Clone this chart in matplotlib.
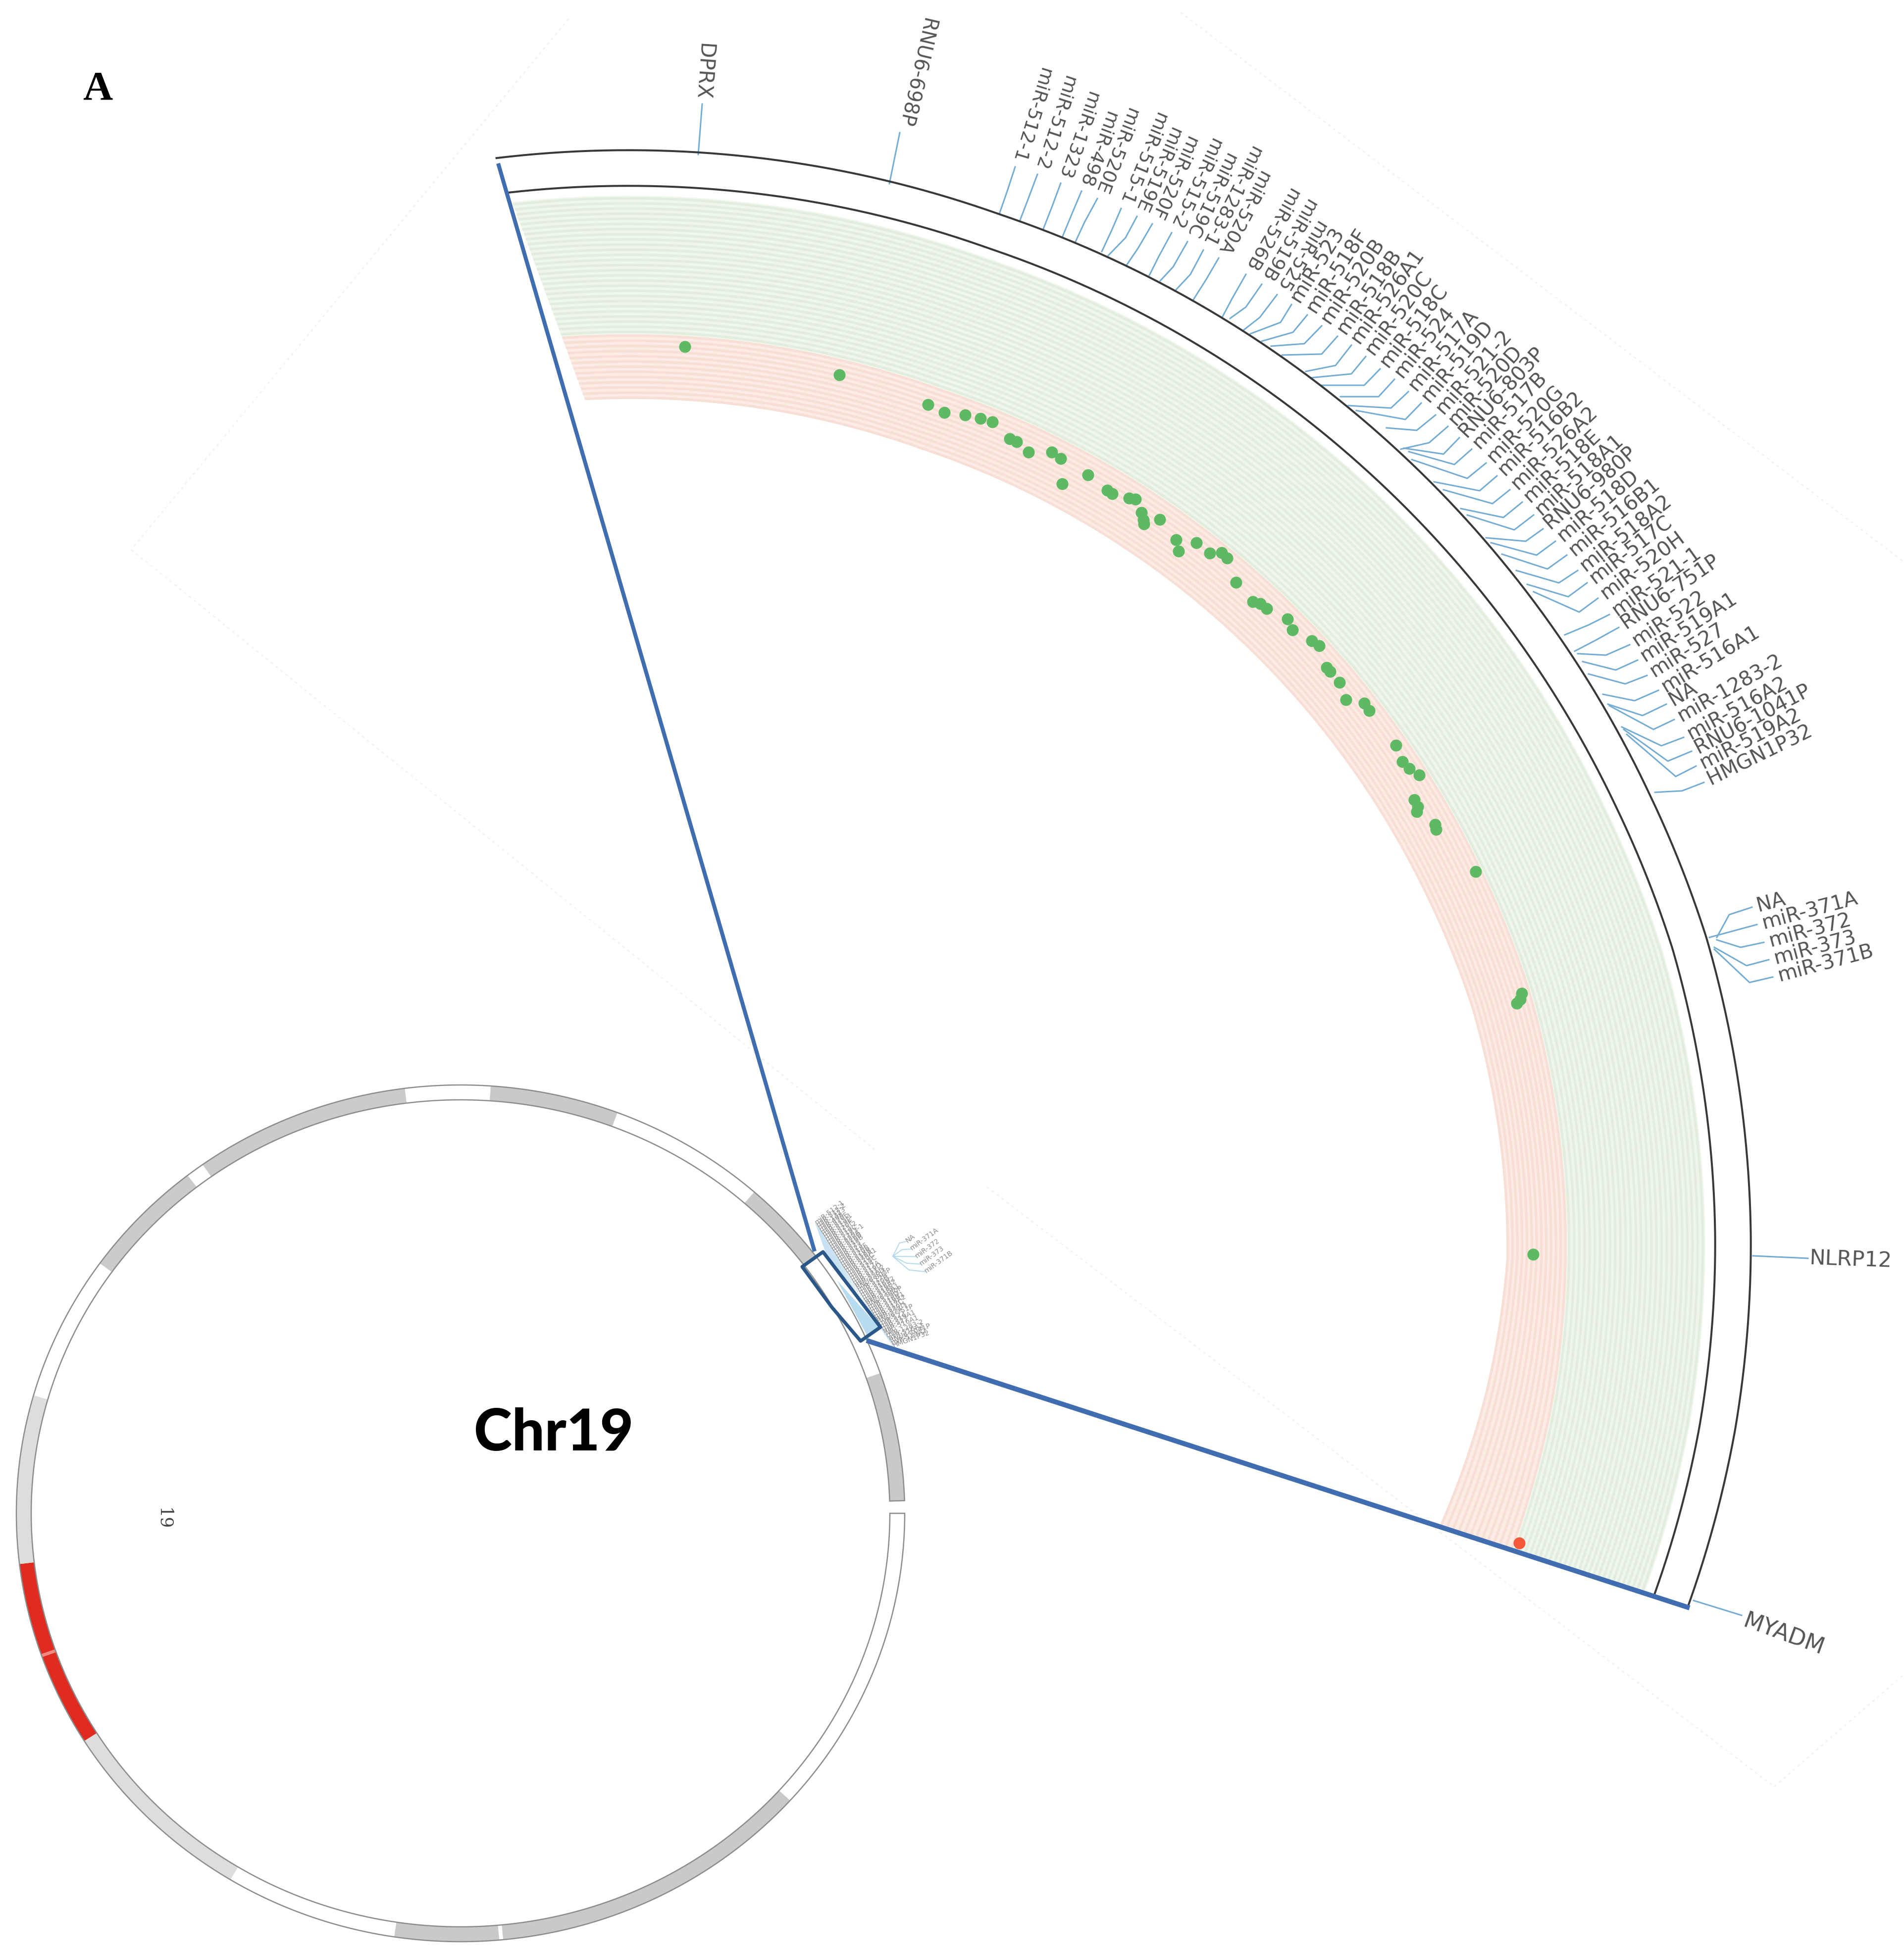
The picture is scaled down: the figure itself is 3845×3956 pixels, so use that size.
import numpy as np
import matplotlib
matplotlib.use("Agg")
import matplotlib.pyplot as plt
from matplotlib.patches import Polygon

# ---------- data ----------
gene_names = ["miR-512-1","miR-512-2","miR-1323","miR-498","miR-520E","miR-515-1","miR-519E","miR-520F",
 "miR-515-2","miR-519C","miR-1283-1","miR-520A","miR-526B","miR-519B","miR-525","miR-523","miR-518F",
 "miR-520B","miR-518B","miR-526A1","miR-520C","miR-518C","miR-524","miR-517A","miR-519D","miR-521-2",
 "miR-520D","RNU6-803P","miR-517B","miR-520G","miR-516B2","miR-526A2","miR-518E","miR-518A1","RNU6-980P",
 "miR-518D","miR-516B1","miR-518A2","miR-517C","miR-520H","miR-521-1","RNU6-751P","miR-522","miR-519A1",
 "miR-527","miR-516A1","NA","miR-1283-2","miR-516A2","RNU6-1041P","miR-519A2","HMGN1P32"]
n_downward = 15   # first labels in the list read towards the arc
gene_base_x = [2018,2059,2107,2146,2171,2225,2238,2276,2321,2343,2375,2410,2468,2484,2512,2525,2548,2567,2589,2637,2646,2669,2707,2723,2739,
 2800,2829,2835,2845,2851,2896,2915,2950,2963,3001,3011,3033,3062,3084,3097,3160,3180,3186,3196,3208,3237,3247,3250,3275,3279,3285,3342]
gene_base_y = [432,447,462,477,490,508,516,534,556,567,585,605,641,643,666,674,689,699,717,750,763,778,801,819,829,
 864,907,905,912,928,973,989,1027,1040,1086,1096,1119,1152,1180,1195,1282,1315,1320,1336,1361,1402,1422,1425,1468,1473,1483,1600]
gene_elbow_x = [2034,2077,2125,2165,2190,2245,2273,2299,2340,2369,2404,2436,2487,2516,2544,2586,2611,2634,2669,2697,2729,2755,2784,2809,2838,
 2861,2886,2915,2937,2963,2988,3014,3036,3058,3081,3103,3125,3148,3167,3189,3208,3224,3243,3263,3282,3301,3317,3339,3355,3368,3384,3397]
gene_elbow_y = [386,400,416,431,449,465,480,500,518,539,554,564,605,620,641,651,671,694,715,738,755,778,801,824,847,
 869,894,917,938,966,991,1017,1045,1070,1093,1121,1149,1177,1205,1236,1262,1292,1323,1353,1381,1415,1445,1473,1506,1537,1568,1597]
gene_top_x = [2050,2095,2142,2184,2216,2264,2296,2327,2366,2398,2430,2461,2516,2548,2579,2608,2640,2669,2701,2729,2758,2787,2816,2844,2870,
 2899,2924,2947,2972,3001,3023,3049,3074,3097,3116,3141,3164,3186,3205,3227,3250,3269,3291,3307,3326,3349,3365,3381,3400,3416,3425,3441]
gene_top_y = [337,352,370,386,401,421,437,452,470,488,505,521,554,574,595,615,636,658,679,697,720,745,766,791,814,
 838,861,884,907,935,961,989,1014,1040,1068,1093,1121,1152,1177,1208,1241,1267,1302,1333,1364,1394,1422,1453,1489,1517,1547,1580]

cluster_names = ["NA","miR-371A","miR-372","miR-373","miR-371B"]
cluster_base_x = [3467,3452,3467,3462,3462]
cluster_base_y = [1893,1893,1898,1913,1917]
cluster_elbow_x = [3492,3500,3515,3527,3533]
cluster_elbow_y = [1847,1880,1913,1950,1984]
cluster_top_x = [3538,3548,3562,3572,3580]
cluster_top_y = [1832,1867,1903,1938,1973]

dot_x = [1383,1695,1874,1907,1949,1980,2004,2039,2053,2077,2124,2142,2145,2197,2236,2246,2280,2293,2305,2309,2310,2342,2375,2380,
 2416,2443,2467,2478,2496,2530,2545,2558,2600,2610,2649,2664,2679,2686,2705,2718,2755,2765,2819,2832,2846,2866,2856,2863,2861,2898,2900,2980,
 3073,3070,3063,3096]
dot_y = [700,757,817,833,838,845,852,886,892,913,913,926,977,959,990,997,1006,1008,1035,1050,1058,1049,1090,1113,
 1096,1117,1116,1127,1176,1215,1219,1229,1250,1272,1294,1304,1348,1356,1378,1413,1420,1435,1505,1538,1552,1565,1615,1629,1639,1665,1675,1760,
 2006,2018,2026,2533]
red_dot_x = [3068]
red_dot_y = [3116]

n_green_tracks = 27
n_red_tracks = 13

band_edges = [0,42.1,84.5,85.0,98.6,121.2,147.9,160.4,160.8,173.2,196.0,215.7,232.1,234.5,262.8,273.9,290.7,311.4,323.1,340.9,358.3]
band_fill = ["#ffffff","#c9c9c9","#ffffff","#c9c9c9","#ffffff","#dddddd","#e02b20","#f08a80","#e02b20","#dddddd","#ffffff",
 "#cbcbcb","#ffffff","#cbcbcb","#ffffff","#c9c9c9","#ffffff","#c9c9c9","#ffffff","#c9c9c9"]

# ---------- layout ----------
PX = 0.72            # one pixel in points at dpi 100
FAN_CX, FAN_CY = 1295, 2540
R_OUT, R_IN, R_GREEN, R_BOUND = 2238, 2166, 2146, 1866
BLUE = "#3f6db0"
LEAD = "#74acd2"
TXT = "#555555"

plt.rcParams["font.family"] = ["DejaVu Sans"]
fig = plt.figure(figsize=(38.45, 39.56), dpi=100, facecolor="white")
ax = fig.add_axes([0, 0, 1, 1])
ax.set_xlim(0, 3845)
ax.set_ylim(3956, 0)
ax.axis("off")

# faint frame of the rotated source picture
for (x0, y0, x1, y1) in [(2384,25,3845,1135),(1148,38,265,1110),(265,1110,1766,2321),(1993,2397,3583,3608),(3583,3608,3845,3381)]:
    ax.plot([x0,x1],[y0,y1],color="#f1f1f1",lw=2.5*PX,ls=(0,(2,3)),zorder=1)

# the arcs of the source are not perfect circles: small correction with angle
def wobble(deg):
    return np.interp(deg, [-18.3,-9,1,16.7,24.8,47,71,97.6], [-10,-2,3,8,3,-4,-10,2])

def red_inner(deg):
    return np.interp(deg, [-18.3,0,97.6], [1711,1745,1735])

def arc(r, a0, a1, n=500):
    deg = np.linspace(a0, a1, n)
    t = np.radians(deg)
    rr = (r(deg) if callable(r) else r) + wobble(deg)
    return FAN_CX + rr*np.cos(t), FAN_CY - rr*np.sin(t)

# tracks, clipped to the wedge
clip = Polygon([(1013,350),(1200,858),(2900,3078),(3430,3252),(3840,2000),(2000,150)],
               closed=True, transform=ax.transData, fill=False, ec="none")
ax.add_patch(clip)
def band(r0, r1, n, base, stripe):
    x0, y0 = arc(r0, 110, -30)
    x1, y1 = arc(r1, -30, 110)
    p = Polygon(np.c_[np.r_[x0,x1], np.r_[y0,y1]], closed=True, fc=base, ec="none", zorder=2)
    ax.add_patch(p); p.set_clip_path(clip)
    for f in np.linspace(0.018, 0.982, n):
        if callable(r1):
            rf = lambda d, f=f: r0 + (r1(d)-r0)*f
        else:
            rf = r0 + (r1-r0)*f
        x, y = arc(rf, 110, -30)
        l, = ax.plot(x, y, color=stripe, lw=5*PX, zorder=3, solid_capstyle="butt")
        l.set_clip_path(clip)
band(R_GREEN, R_BOUND, n_green_tracks, "#eff6eb", "#e3edde")
band(R_BOUND, red_inner, n_red_tracks, "#fbebe4", "#f7dfd5")

# black arcs
x, y = arc(R_OUT, 97.5, -18.3); ax.plot(x, y, color="#383838", lw=4*PX, zorder=5)
x, y = arc(R_IN, 97.1, -18.4); ax.plot(x, y, color="#383838", lw=4*PX, zorder=5)

# dots
ax.scatter(dot_x, dot_y, s=300, color="#5dba63", linewidths=0, zorder=6)
ax.scatter(red_dot_x, red_dot_y, s=300, color="#f4593a", linewidths=0, zorder=6)

# leaders and labels of the zoomed fan
def label(name, x, y, rot, ha, size=29.5, color=TXT, z=7):
    ax.text(x, y, name, rotation=rot, rotation_mode="anchor", ha=ha, va="center",
            fontsize=size, color=color, zorder=z)

for i, name in enumerate(gene_names):
    ax.plot([gene_base_x[i],gene_elbow_x[i],gene_top_x[i]],[gene_base_y[i],gene_elbow_y[i],gene_top_y[i]],
            color=LEAD, lw=3*PX, zorder=4, solid_joinstyle="round")
    ang = np.degrees(np.arctan2(FAN_CY-gene_top_y[i], gene_top_x[i]-FAN_CX)) + 2
    d = np.radians(ang)
    tx, ty = gene_top_x[i]+10*np.cos(d), gene_top_y[i]-10*np.sin(d)
    if i < n_downward:
        label(name, tx, ty, ang-180, "right", size=27.5)
    else:
        label(name, tx, ty, ang, "left")
for i, name in enumerate(cluster_names):
    ax.plot([cluster_base_x[i],cluster_elbow_x[i],cluster_top_x[i]],[cluster_base_y[i],cluster_elbow_y[i],cluster_top_y[i]],
            color=LEAD, lw=3*PX, zorder=4)
    label(name, cluster_top_x[i]+10, cluster_top_y[i]-2, 15, "left")

ax.plot([1410,1418],[312,210],color=LEAD,lw=3*PX,zorder=4)
label("DPRX",1416,202,-94,"right",size=30)
ax.plot([1796,1817],[371,268],color=LEAD,lw=3*PX,zorder=4)
label("RNU6-698P",1824,256,-103,"right",size=28.5)
ax.plot([3540,3651],[2536,2541],color=LEAD,lw=3*PX,zorder=4)
label("NLRP12",3654,2541,-2,"left",size=31)
ax.plot([3420,3517],[3232,3262],color=LEAD,lw=3*PX,zorder=4)
label("MYADM",3522,3272,-20,"left",size=33)

# blue connector lines
ax.plot([1006,1645],[330,2527],color=BLUE,lw=8*PX,zorder=8,solid_capstyle="butt")
ax.plot([1750,3412],[2707,3247],color=BLUE,lw=10*PX,zorder=8,solid_capstyle="butt")

# chromosome ideogram
ICX, ICY, IRX, IRY, IW = 930, 3056, 882, 850, 15
def ring(a0, a1, d):
    t = np.radians(np.linspace(a0, a1, max(int(abs(a1-a0)*6), 4)))
    return ICX+(IRX+d)*np.cos(t), ICY+(IRY+d)*np.sin(t)
for a0, a1, c in zip(band_edges[:-1], band_edges[1:], band_fill):
    xo, yo = ring(a0, a1, IW); xi, yi = ring(a1, a0, -IW)
    ax.add_patch(Polygon(np.c_[np.r_[xo,xi],np.r_[yo,yi]],closed=True,fc=c,ec="none",zorder=2))
xo, yo = ring(0, 358.3, IW); xi, yi = ring(358.3, 0, -IW)
ax.add_patch(Polygon(np.c_[np.r_[xo,xi],np.r_[yo,yi]],closed=True,fc="none",ec="#8c8c8c",lw=2.5*PX,zorder=3))

ax.text(1118,2895,"Chr19",fontsize=84,fontweight=900,family="Lato",color="black",ha="center",va="center",zorder=9)
ax.text(330,3067,"19",fontsize=25,family="DejaVu Serif",color="#444444",rotation=-90,ha="center",va="center",zorder=9)
ax.text(197,181,"A",fontsize=60,fontweight="bold",family="Liberation Serif",color="black",ha="center",va="center",zorder=9)

# miniature of the fan next to the ideogram
mini_x = np.linspace(1647,1803,len(gene_names))
mini_y = np.linspace(2470,2717,len(gene_names))
mini_rot = np.linspace(38,20,len(gene_names))
edge_x = np.linspace(1670,1778,len(gene_names))
edge_y = np.linspace(2535,2680,len(gene_names))
for i, name in enumerate(gene_names):
    ax.plot([edge_x[i],mini_x[i]],[edge_y[i],mini_y[i]],color="#c4e0f2",lw=1.5*PX,zorder=4)
    label(name, mini_x[i], mini_y[i], mini_rot[i], "left", size=10, color="#8c8c8c")
mini2_x = np.linspace(1830,1868,5); mini2_y = np.linspace(2507,2568,5)
for i, name in enumerate(cluster_names):
    ax.plot([1803,1803+(mini2_x[i]-1803)*0.5,mini2_x[i]],[2537,(2537+mini2_y[i])/2+(i-2)*6,mini2_y[i]],color="#b5d9ef",lw=2*PX,zorder=4)
    label(name, mini2_x[i], mini2_y[i], 36, "left", size=10, color="#8c8c8c")
ax.add_patch(Polygon([(1690,2585),(1775,2680),(1750,2695)],closed=True,fc="#b7dbef",ec="none",zorder=4))
ax.add_patch(Polygon([(1662,2528),(1620,2558),(1680,2640),(1738,2708),(1778,2680)],closed=True,fc="none",ec="#2a5688",lw=7*PX,zorder=9,joinstyle="round"))

fig.savefig("out.png", dpi=100, facecolor="white")
